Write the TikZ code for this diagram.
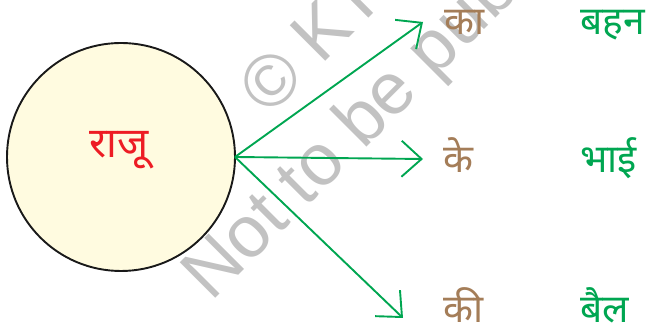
\documentclass[tikz,border=0pt]{standalone}
\usepackage{fontspec}
\usetikzlibrary{arrows.meta}
\newfontfamily\deva[Script=Devanagari]{Noto Sans}
\newfontfamily\wmfont{Liberation Sans}
\definecolor{arrowgreen}{HTML}{00A651}
\definecolor{wordbrown}{HTML}{A47D58}
\definecolor{rajured}{HTML}{ED1C24}
\definecolor{circlefill}{HTML}{FFFBE0}
\definecolor{wmgray}{HTML}{C2C2C2}
\tikzset{
  person/.style={circle, draw=black!90, line width=1.9pt, fill=circlefill, minimum size=228pt, inner sep=0pt},
  link/.style={draw=arrowgreen, line width=1.9pt, -{Straight Barb[length=20pt,width=36pt,line width=1.9pt]}},
  postp/.style={text=wordbrown, font=\deva\fontsize{39}{40}\selectfont, anchor=base west, inner sep=0pt},
  noun/.style={text=arrowgreen, font=\deva\fontsize{39}{40}\selectfont, anchor=base west, inner sep=0pt},
  wmark/.style={text=wmgray, font=\wmfont\fontsize{73}{75}\selectfont, rotate=45, anchor=base west, inner sep=0pt}
}
\begin{document}
\begin{tikzpicture}[x=1pt,y=1pt]
\useasboundingbox (0,0) rectangle (651,328);
\begin{scope}
\clip (0,0) rectangle (651,328);
\node[person] (raju) at (121,171) {};
\node[text=rajured, font=\deva\fontsize{42}{44}\selectfont, anchor=base, inner sep=0pt] (rajutext) at (119,170) {राजू};
\node[wmark] (wm1) at (269,210) {© KTBS};
\node[wmark] (wm2) at (211,25) {Not to be published};
\end{scope}
\coordinate (src) at (235,171);
\coordinate (t1) at (423,306);
\coordinate (t2) at (423,169);
\coordinate (t3) at (403,10);
\draw[link] (src) -- (t1);
\draw[link] (src) -- (t2);
\draw[link] (src) -- (t3);
\node[postp] (ka) at (444,293) {का};
\node[postp] (ke) at (443,155) {के};
\node[postp] (ki) at (443,5) {की};
\node[noun] (bahan) at (580,293) {बहन};
\node[noun] (bhai) at (580,155) {भाई};
\node[noun] (bail) at (580,5) {बैल};
\end{tikzpicture}
\end{document}
